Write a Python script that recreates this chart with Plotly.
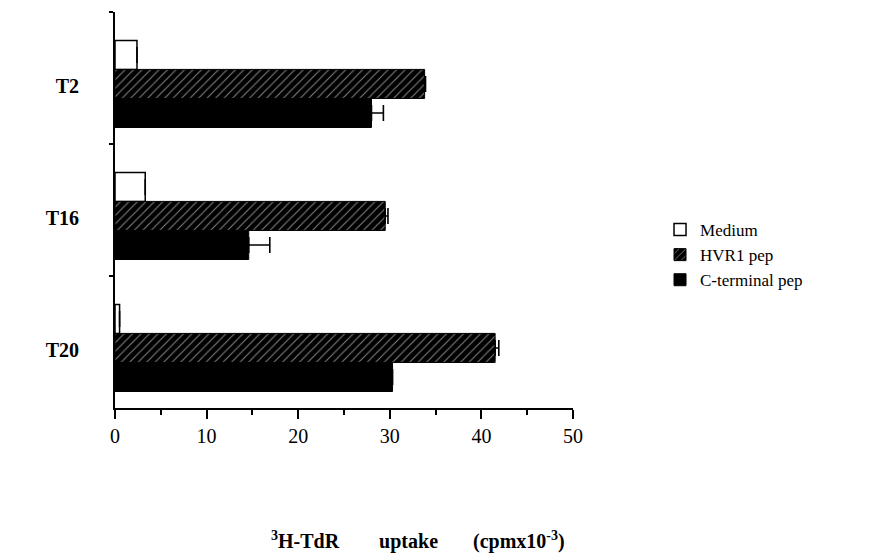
import plotly.graph_objects as go

categories = ["T2", "T16", "T20"]
series_names = ["Medium", "HVR1 pep", "C-terminal pep"]
medium = [2.4, 3.3, 0.5]
medium_err = [0.0, 0.0, 0.0]
hvr1 = [33.8, 29.5, 41.5]
hvr1_err = [0.1, 0.3, 0.4]
cterm = [28.0, 14.6, 30.3]
cterm_err = [1.3, 2.3, 0.0]
x_tickvals = [0, 10, 20, 30, 40, 50]
x_ticktext = ["0", "10", "20", "30", "40", "50"]

SERIF = "Liberation Serif, Times New Roman, serif"
BAR_W = 0.22
OFFSETS = [-0.285, -0.065, 0.155]

def err(vals):
    return dict(type="data", symmetric=False, array=vals, arrayminus=[0] * len(vals),
                color="black", thickness=1.6, width=8)

fig = go.Figure()
fig.add_trace(go.Bar(
    y=categories, x=medium, name=series_names[0], orientation="h",
    width=BAR_W, offset=OFFSETS[0],
    marker=dict(color="white", line=dict(color="black", width=1.5)),
    error_x=err(medium_err),
))
fig.add_trace(go.Bar(
    y=categories, x=hvr1, name=series_names[1], orientation="h",
    width=BAR_W, offset=OFFSETS[1],
    marker=dict(color="black", line=dict(color="black", width=1),
                pattern=dict(shape="/", bgcolor="black", fgcolor="white",
                             size=6, solidity=0.18)),
    error_x=err(hvr1_err),
))
fig.add_trace(go.Bar(
    y=categories, x=cterm, name=series_names[2], orientation="h",
    width=BAR_W, offset=OFFSETS[2],
    marker=dict(color="black", line=dict(color="black", width=1)),
    error_x=err(cterm_err),
))

fig.update_layout(
    width=872, height=560,
    margin=dict(l=115, r=299, t=12, b=152),
    paper_bgcolor="white", plot_bgcolor="white",
    barmode="overlay",
    font=dict(family=SERIF, color="black", size=17),
    showlegend=True,
    legend=dict(x=1.19, y=0.495, xanchor="left", yanchor="top",
                font=dict(family=SERIF, size=17), bgcolor="rgba(0,0,0,0)",
                traceorder="normal", itemwidth=30),
    xaxis=dict(range=[0, 50], tickvals=x_tickvals, ticktext=x_ticktext,
               showline=True, linecolor="black", linewidth=2,
               ticks="outside", ticklen=9, tickwidth=2, tickcolor="black",
               minor=dict(dtick=5, ticks="outside", ticklen=5, tickwidth=2, tickcolor="black"),
               showgrid=False, zeroline=False,
               tickfont=dict(family=SERIF, size=20)),
    yaxis=dict(autorange="reversed", categoryorder="array", categoryarray=categories,
               showline=True, linecolor="black", linewidth=2,
               ticks="outside", ticklen=4, tickwidth=2, tickcolor="black",
               tickson="boundaries", showgrid=False, zeroline=False,
               ticklabelstandoff=30, ticklabelshift=-8,
               tickfont=dict(family=SERIF, size=20, weight="bold")),
)

fig.add_annotation(
    xref="paper", yref="paper", x=0.662, y=-0.335, xanchor="center", yanchor="middle",
    showarrow=False,
    text="<b><sup>3</sup>H-TdR\u00a0\u00a0\u00a0\u00a0\u00a0\u00a0\u00a0 uptake\u00a0\u00a0\u00a0\u00a0\u00a0\u00a0 (cpmx10<sup>-3</sup>)</b>",
    font=dict(family=SERIF, size=20, color="black"),
)

fig.write_html("out.html")
